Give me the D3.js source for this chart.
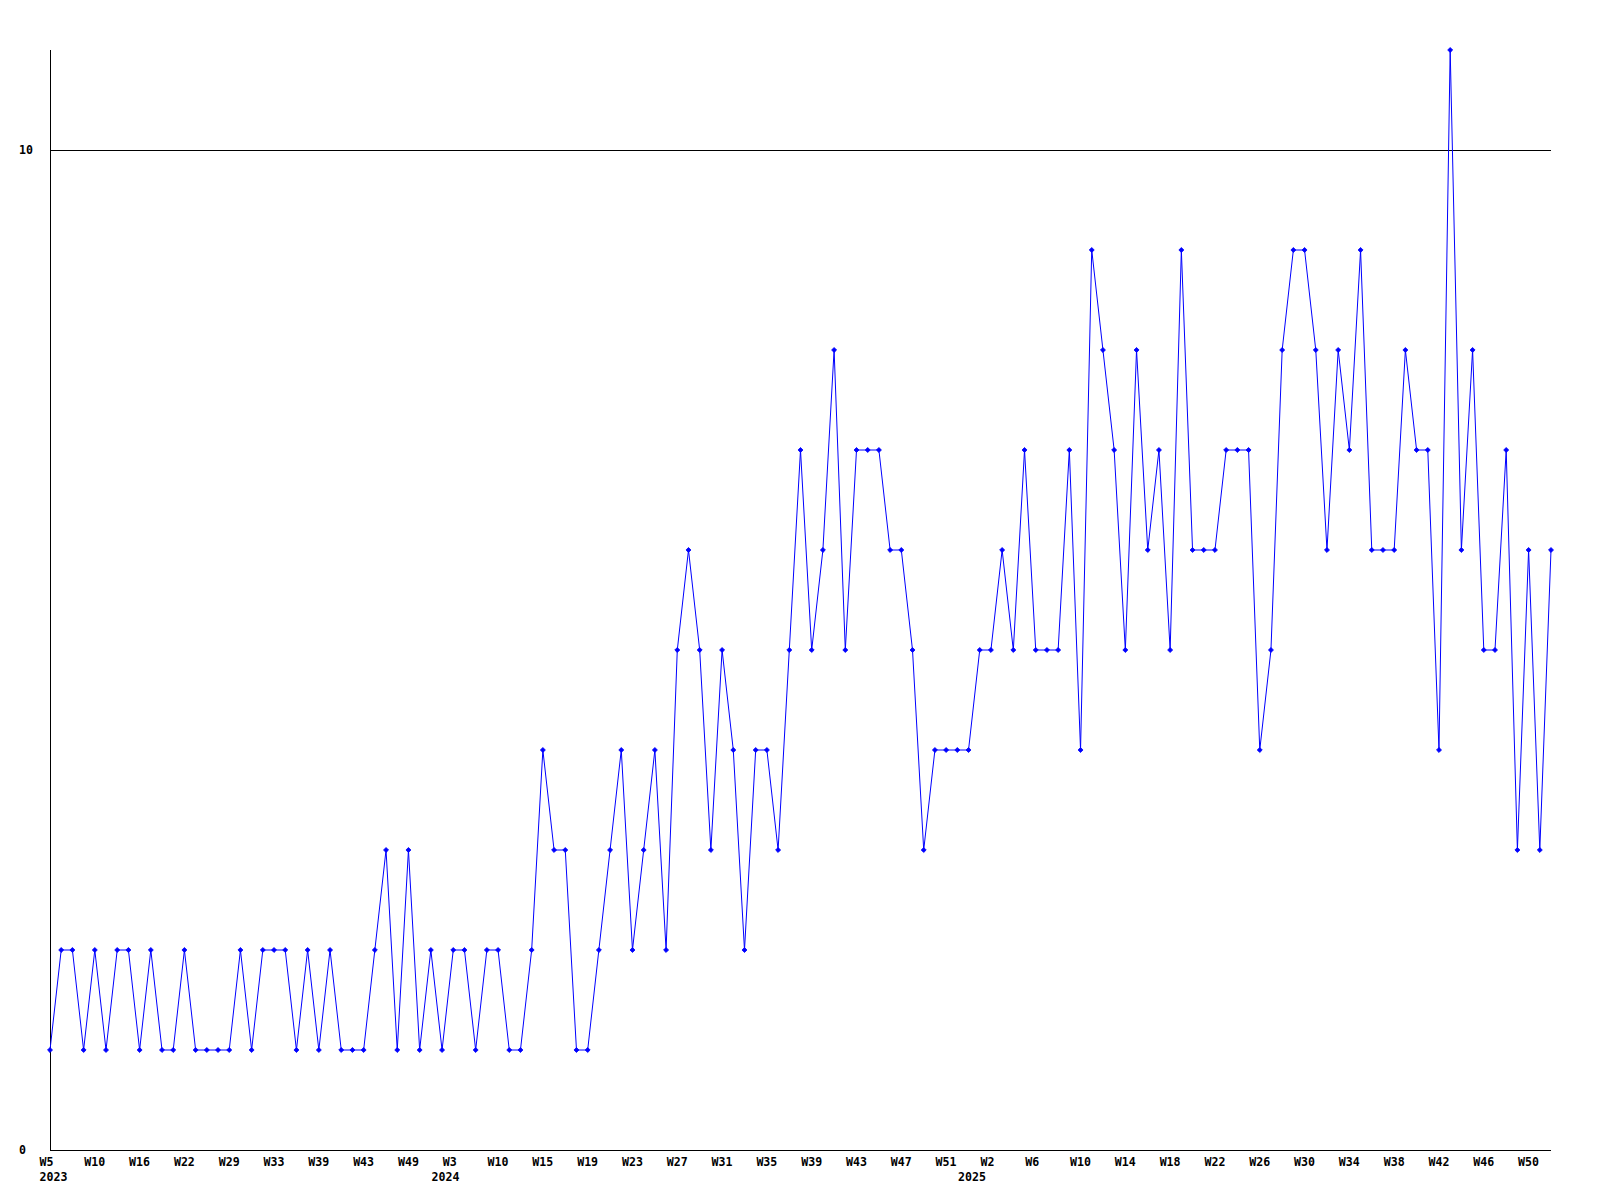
<!DOCTYPE html>
<html>
<head>
<meta charset="utf-8">
<script src="https://cdn.jsdelivr.net/npm/d3@7"></script>
<style>
  html, body { margin: 0; padding: 0; background: #ffffff; }
  svg text { font-family: "DejaVu Sans Mono", "Liberation Mono", monospace; font-weight: bold; font-size: 11.6px; fill: #000; }
</style>
</head>
<body>
<svg id="chart" width="1600" height="1200"></svg>
<script>
// ---- data ----
const weeks2023 = ["W5","W6","W7","W8","W10","W11","W13","W14","W16","W17","W19","W20","W22","W23","W25","W27","W29","W30","W31","W32","W33","W35","W36","W37","W39","W40","W41","W42","W43","W45","W46","W47","W49","W50","W52"];
const weeks2024 = ["W1","W3","W4","W6","W8","W10","W11","W12","W14","W15","W16","W17","W18","W19","W20","W21","W22","W23","W24","W25","W26","W27","W28","W29","W30","W31","W32","W33","W34","W35","W36","W37","W38","W39","W40","W41","W42","W43","W44","W45","W46","W47","W48","W49","W50","W51","W52"];
const weeks2025 = ["W0","W1","W2","W3","W4","W5","W6","W7","W8","W9","W10","W11","W12","W13","W14","W15","W16","W17","W18","W19","W20","W21","W22","W23","W24","W25","W26","W27","W28","W29","W30","W31","W32","W33","W34","W35","W36","W37","W38","W39","W40","W41","W42","W43","W44","W45","W46","W47","W48","W49","W50","W51","W52"];
const years = ["2023", "2024", "2025"];
const values = [
  1,2,2,1,2,1,2,2,1,2,
  1,1,2,1,1,1,1,2,1,2,
  2,2,1,2,1,2,1,1,1,2,
  3,1,3,1,2,1,2,2,1,2,
  2,1,1,2,4,3,3,1,1,2,
  3,4,2,3,4,2,5,6,5,3,
  5,4,2,4,4,3,5,7,5,6,
  8,5,7,7,7,6,6,5,3,4,
  4,4,4,5,5,6,5,7,5,5,
  5,7,4,9,8,7,5,8,6,7,
  5,9,6,6,6,7,7,7,4,5,
  8,9,9,8,6,8,7,9,6,6,
  6,8,7,7,4,11,6,8,5,5,
  7,3,6,3,6
];
const yTickValues = [0, 10];
const labelEvery = 4;

// ---- build categories ----
const categories = [];
[weeks2023, weeks2024, weeks2025].forEach((arr, yi) => {
  arr.forEach((w, wi) => categories.push({ key: years[yi] + "-" + w, week: w, year: years[yi], firstOfYear: wi === 0 }));
});
const points = values.map((v, i) => ({ cat: categories[i], value: v }));

// ---- layout ----
const svg = d3.select("#chart");
const plotLeft = 50, plotRight = 1551, plotTop = 50, plotBottom = 1150;

const x = d3.scalePoint().domain(categories.map(c => c.key)).range([plotLeft, plotRight]);
const y = d3.scaleLinear().domain([0, 11]).range([plotBottom, plotTop]);

// gridline at 10
svg.selectAll("line.grid").data(yTickValues.filter(v => v > 0)).enter().append("line")
  .attr("x1", plotLeft).attr("x2", plotRight)
  .attr("y1", d => y(d) + 0.5).attr("y2", d => y(d) + 0.5)
  .attr("stroke", "#000").attr("stroke-width", 1);

// axes lines
svg.append("line").attr("x1", plotLeft + 0.5).attr("x2", plotLeft + 0.5).attr("y1", plotTop).attr("y2", plotBottom)
  .attr("stroke", "#000");
svg.append("line").attr("x1", plotLeft).attr("x2", plotRight).attr("y1", plotBottom + 0.5).attr("y2", plotBottom + 0.5)
  .attr("stroke", "#000");

// y labels
svg.selectAll("text.ylab").data(yTickValues).enter().append("text")
  .attr("x", 19).attr("y", d => y(d)).attr("dy", "0.35em")
  .text(d => d);

// x week labels
svg.selectAll("text.xlab").data(categories.filter((c, i) => i % labelEvery === 0)).enter().append("text")
  .attr("x", d => x(d.key) - 10.5).attr("y", 1161.5).attr("dy", "0.35em")
  .text(d => d.week);

// year labels
svg.selectAll("text.yr").data(categories.filter(c => c.firstOfYear)).enter().append("text")
  .attr("x", d => x(d.key) - 10.5).attr("y", 1177).attr("dy", "0.35em")
  .text(d => d.year);

// line
const line = d3.line().x(d => x(d.cat.key)).y(d => y(d.value));
svg.append("path").datum(points)
  .attr("d", line).attr("fill", "none").attr("stroke", "#0000ff").attr("stroke-width", 1);

// markers
const diamond = d3.symbol().type(d3.symbolDiamond2).size(16);
svg.selectAll("path.mk").data(points).enter().append("path")
  .attr("transform", d => `translate(${x(d.cat.key)},${y(d.value)})`)
  .attr("d", diamond).attr("fill", "#0000ff").attr("stroke", "#0000ff").attr("stroke-width", 0.8);
</script>
</body>
</html>
